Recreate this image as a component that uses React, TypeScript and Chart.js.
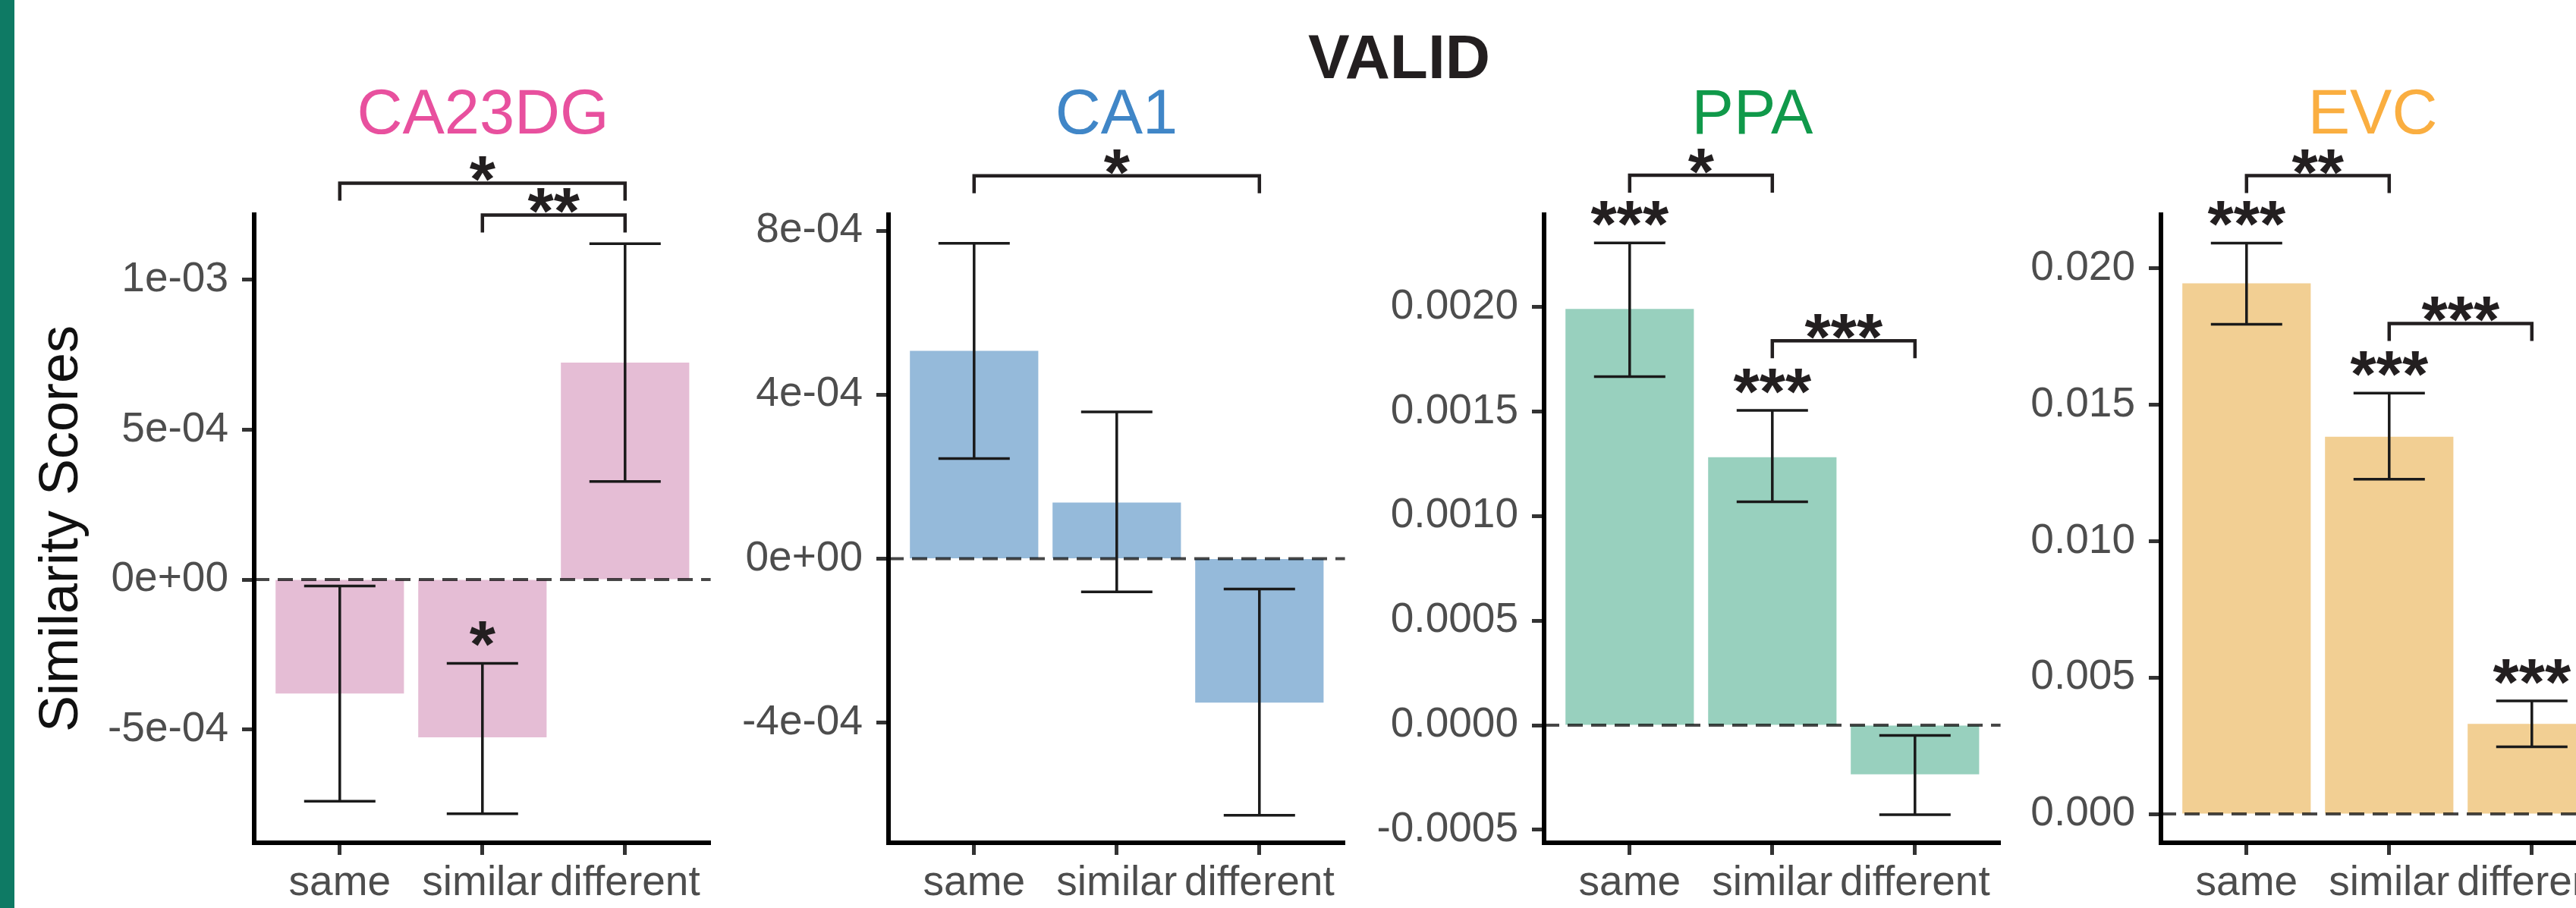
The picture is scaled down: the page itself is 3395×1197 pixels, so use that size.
import React, { useEffect, useRef } from 'react';
import { Chart, registerables } from 'chart.js';

Chart.register(...registerables);

const FONT = '"Liberation Sans", Arial, Helvetica, sans-serif';

// ---------- data ----------
const CATEGORIES = ['same', 'similar', 'different'];

const CA23DG_MEAN = [-3.8e-4, -5.26e-4, 7.24e-4];
const CA23DG_LOW = [-7.39e-4, -7.81e-4, 3.27e-4];
const CA23DG_HIGH = [-2.1e-5, -2.79e-4, 1.12e-3];
const CA23DG_TICKS = [-5e-4, 0, 5e-4, 1e-3];
const CA23DG_TICK_LABELS = ['-5e-04', '0e+00', '5e-04', '1e-03'];
const CA23DG_STARS = ['', '*', ''];
const CA23DG_BRACKETS = [
  { from: 0, to: 2, y: 1.322e-3, label: '*' },
  { from: 1, to: 2, y: 1.216e-3, label: '**' },
];

const CA1_MEAN = [5.07e-4, 1.37e-4, -3.51e-4];
const CA1_LOW = [2.44e-4, -8.1e-5, -6.26e-4];
const CA1_HIGH = [7.69e-4, 3.58e-4, -7.4e-5];
const CA1_TICKS = [-4e-4, 0, 4e-4, 8e-4];
const CA1_TICK_LABELS = ['-4e-04', '0e+00', '4e-04', '8e-04'];
const CA1_STARS = ['', '', ''];
const CA1_BRACKETS = [{ from: 0, to: 2, y: 9.34e-4, label: '*' }];

const PPA_MEAN = [1.99e-3, 1.281e-3, -2.35e-4];
const PPA_LOW = [1.667e-3, 1.068e-3, -4.28e-4];
const PPA_HIGH = [2.306e-3, 1.505e-3, -4.9e-5];
const PPA_TICKS = [-0.0005, 0, 0.0005, 0.001, 0.0015, 0.002];
const PPA_TICK_LABELS = ['-0.0005', '0.0000', '0.0005', '0.0010', '0.0015', '0.0020'];
const PPA_STARS = ['***', '***', ''];
const PPA_BRACKETS = [
  { from: 0, to: 1, y: 2.63e-3, label: '*' },
  { from: 1, to: 2, y: 1.838e-3, label: '***' },
];

const EVC_MEAN = [0.01945, 0.01383, 0.0033];
const EVC_LOW = [0.01795, 0.01227, 0.00246];
const EVC_HIGH = [0.02093, 0.01543, 0.004145];
const EVC_TICKS = [0, 0.005, 0.01, 0.015, 0.02];
const EVC_TICK_LABELS = ['0.000', '0.005', '0.010', '0.015', '0.020'];
const EVC_STARS = ['***', '***', '***'];
const EVC_BRACKETS = [
  { from: 0, to: 1, y: 0.0234, label: '**' },
  { from: 1, to: 2, y: 0.01798, label: '***' },
];

const PANELS = [
  { title: 'CA23DG', mean: CA23DG_MEAN, low: CA23DG_LOW, high: CA23DG_HIGH, ticks: CA23DG_TICKS, tickLabels: CA23DG_TICK_LABELS, yMin: -8.775e-4, yMax: 1.217e-3, stars: CA23DG_STARS, brackets: CA23DG_BRACKETS, yTitle: 'Similarity Scores' },
  { title: 'CA1', mean: CA1_MEAN, low: CA1_LOW, high: CA1_HIGH, ticks: CA1_TICKS, tickLabels: CA1_TICK_LABELS, yMin: -6.93e-4, yMax: 8.39e-4, stars: CA1_STARS, brackets: CA1_BRACKETS, yTitle: '' },
  { title: 'PPA', mean: PPA_MEAN, low: PPA_LOW, high: PPA_HIGH, ticks: PPA_TICKS, tickLabels: PPA_TICK_LABELS, yMin: -0.000562, yMax: 0.002441, stars: PPA_STARS, brackets: PPA_BRACKETS, yTitle: '' },
  { title: 'EVC', mean: EVC_MEAN, low: EVC_LOW, high: EVC_HIGH, ticks: EVC_TICKS, tickLabels: EVC_TICK_LABELS, yMin: -0.001056, yMax: 0.02197, stars: EVC_STARS, brackets: EVC_BRACKETS, yTitle: '' },
];

// ---------- layout & styles ----------
const W = 3395;
const H = 1197;
const PLOT_TOP = 283;
const XAXIS_H = 86;

const LAYOUT = [
  { left: 0, width: 960, axisW: 335, padRight: 23.4, titleX: 636.5 },
  { left: 960, width: 835, axisW: 211, padRight: 22.4, titleX: 1471.5 },
  { left: 1795, width: 865, axisW: 240, padRight: 23.4, titleX: 2309.5 },
  { left: 2660, width: 813, axisW: 188, padRight: 23.4, titleX: 3127 },
];

const STYLES = [
  { titleColor: '#E8509E', barColor: '#E5BDD5' },
  { titleColor: '#4086C7', barColor: '#95BADA' },
  { titleColor: '#10994A', barColor: '#98D0BE' },
  { titleColor: '#FAAE40', barColor: '#F2CF93' },
];

const INK = '#231F20';
const TICK_FONT_SIZE = 55;

function makeOverlay(spec: any, lay: any, style: any) {
  return {
    id: 'overlay',
    afterDraw(chart: any) {
      const { ctx, chartArea } = chart;
      const x = chart.scales.x;
      const y = chart.scales.y;
      ctx.save();
      // dashed zero line
      const y0 = y.getPixelForValue(0);
      ctx.strokeStyle = 'rgba(0,0,0,0.72)';
      ctx.lineWidth = 4;
      ctx.setLineDash([20, 11]);
      ctx.beginPath();
      ctx.moveTo(chartArea.left, y0);
      ctx.lineTo(chartArea.right, y0);
      ctx.stroke();
      ctx.setLineDash([]);

      // error bars
      const half = x.getPixelForValue(0.25) - x.getPixelForValue(0);
      ctx.strokeStyle = '#1A1A1A';
      ctx.lineWidth = 3.5;
      ctx.lineCap = 'butt';
      for (let i = 0; i < spec.mean.length; i++) {
        const xc = x.getPixelForValue(i);
        const yl = y.getPixelForValue(spec.low[i]);
        const yh = y.getPixelForValue(spec.high[i]);
        ctx.beginPath();
        ctx.moveTo(xc, yl);
        ctx.lineTo(xc, yh);
        ctx.moveTo(xc - half, yl);
        ctx.lineTo(xc + half, yl);
        ctx.moveTo(xc - half, yh);
        ctx.lineTo(xc + half, yh);
        ctx.stroke();
      }

      // stars above error bars
      ctx.fillStyle = INK;
      ctx.font = `bold 88px ${FONT}`;
      ctx.textAlign = 'center';
      ctx.textBaseline = 'alphabetic';
      for (let i = 0; i < spec.stars.length; i++) {
        const s = spec.stars[i];
        if (!s) continue;
        const xc = x.getPixelForValue(i);
        const yh = y.getPixelForValue(spec.high[i]);
        const m = ctx.measureText(s);
        const target = yh - 22;
        ctx.fillText(s, xc, target - m.actualBoundingBoxDescent);
      }

      // brackets
      ctx.strokeStyle = INK;
      ctx.lineWidth = 4.5;
      ctx.lineJoin = 'miter';
      for (const b of spec.brackets) {
        const x1 = x.getPixelForValue(b.from);
        const x2 = x.getPixelForValue(b.to);
        const yb = y.getPixelForValue(b.y);
        ctx.beginPath();
        ctx.moveTo(x1, yb + 23);
        ctx.lineTo(x1, yb);
        ctx.lineTo(x2, yb);
        ctx.lineTo(x2, yb + 23);
        ctx.stroke();
        const m = ctx.measureText(b.label);
        ctx.fillText(b.label, (x1 + x2) / 2, yb - 2 - m.actualBoundingBoxDescent);
      }

      // panel title
      ctx.fillStyle = style.titleColor;
      ctx.font = `83px ${FONT}`;
      ctx.textAlign = 'center';
      ctx.fillText(spec.title, lay.titleX - lay.left, 176);
      ctx.restore();
    },
  };
}

function buildConfig(spec: any, lay: any, style: any): any {
  return {
    type: 'bar',
    data: {
      datasets: [
        {
          data: spec.mean.map((v: number, i: number) => ({ x: i, y: v })),
          backgroundColor: style.barColor,
          borderWidth: 0,
          barPercentage: 0.9,
          categoryPercentage: 1,
        },
      ],
    },
    options: {
      animation: false,
      responsive: false,
      maintainAspectRatio: false,
      devicePixelRatio: 1,
      layout: { padding: { top: PLOT_TOP, right: lay.padRight, bottom: 0, left: 0 } },
      plugins: { legend: { display: false }, tooltip: { enabled: false }, title: { display: false } },
      scales: {
        x: {
          type: 'linear',
          min: -0.6,
          max: CATEGORIES.length - 1 + 0.6,
          offset: false,
          afterBuildTicks: (s: any) => {
            s.ticks = CATEGORIES.map((_, i) => ({ value: i }));
          },
          afterFit: (s: any) => {
            s.height = XAXIS_H;
          },
          ticks: {
            callback: (_v: any, i: number) => CATEGORIES[i],
            font: { family: FONT, size: TICK_FONT_SIZE },
            color: '#4D4D4D',
            padding: 5,
            maxRotation: 0,
            minRotation: 0,
            autoSkip: false,
          },
          grid: {
            display: true,
            offset: false,
            drawOnChartArea: false,
            drawTicks: true,
            tickLength: 16,
            tickWidth: 5,
            tickColor: '#333333',
            color: '#333333',
          },
          border: { display: true, color: '#000000', width: 6 },
        },
        y: {
          type: 'linear',
          min: spec.yMin,
          max: spec.yMax,
          afterBuildTicks: (s: any) => {
            s.ticks = spec.ticks.map((v: number) => ({ value: v }));
          },
          afterFit: (s: any) => {
            s.width = lay.axisW;
          },
          ticks: {
            callback: (_v: any, i: number) => spec.tickLabels[i],
            font: { family: FONT, size: TICK_FONT_SIZE },
            color: '#4D4D4D',
            padding: 18,
            autoSkip: false,
          },
          grid: {
            display: true,
            drawOnChartArea: false,
            drawTicks: true,
            tickLength: 16,
            tickWidth: 5,
            tickColor: '#333333',
            color: '#333333',
          },
          border: { display: true, color: '#000000', width: 6 },
          title: {
            display: !!spec.yTitle,
            text: spec.yTitle,
            color: '#111111',
            font: { family: FONT, size: 72 },
            padding: { top: 39, bottom: 0 },
          },
        },
      },
    },
    plugins: [makeOverlay(spec, lay, style)],
  };
}

function Panel({ spec, lay, style }: any) {
  const ref = useRef<HTMLCanvasElement>(null);
  useEffect(() => {
    const chart = new Chart(ref.current as HTMLCanvasElement, buildConfig(spec, lay, style));
    return () => chart.destroy();
  }, []);
  return (
    <canvas
      ref={ref}
      width={lay.width}
      height={H}
      style={{ position: 'absolute', left: lay.left, top: 0, width: lay.width, height: H }}
    />
  );
}

export default function App() {
  return (
    <div style={{ position: 'absolute', left: 0, top: 0, width: W, height: H, overflow: 'hidden', background: '#ffffff' }}>
      {PANELS.map((p, i) => (
        <Panel key={p.title} spec={p} lay={LAYOUT[i]} style={STYLES[i]} />
      ))}
      <div style={{ position: 'absolute', left: 0, top: 0, width: 19, height: H, background: '#0E7A64' }} />
      <div
        style={{
          position: 'absolute',
          left: 1844,
          top: 33.6,
          transform: 'translateX(-50%)',
          font: `bold 82px ${FONT}`,
          lineHeight: '82px',
          color: INK,
          whiteSpace: 'nowrap',
        }}
      >
        VALID
      </div>
    </div>
  );
}
